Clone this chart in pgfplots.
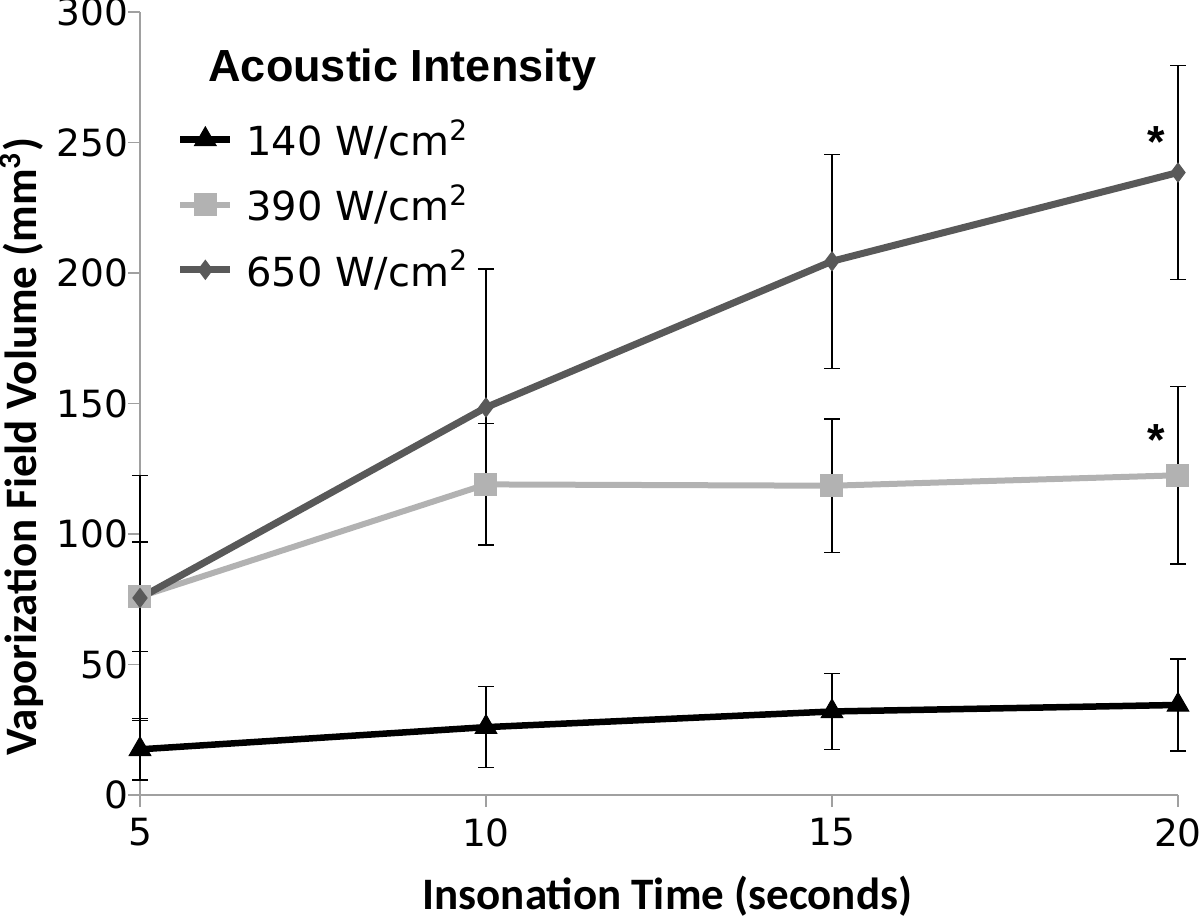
\documentclass[border=0pt]{standalone}
\usepackage{fontspec}
\usepackage{pgfplots}
\usepackage{pgfplotstable}
\pgfplotsset{compat=1.18}
\newfontfamily\dejavu{DejaVu Sans}
\newfontfamily\carlito{Carlito}
\newfontfamily\arialf{Liberation Sans}
\definecolor{axgray}{RGB}{160,160,160}
\definecolor{lightser}{RGB}{178,178,178}
\definecolor{darkser}{RGB}{89,89,89}

% time, mean volume, error
\pgfplotstableread{
x y e
5 17.5 11.8
10 26 15.5
15 32 14.6
20 34.5 17.6
}\lowint
\pgfplotstableread{
x y e
5 76 21
10 119 23.3
15 118.5 25.6
20 122.5 34
}\midint
\pgfplotstableread{
x y e
5 75.5 47
10 148.5 53
15 204.5 41
20 238.5 41
}\highint

\begin{document}
\begin{tikzpicture}
\begin{axis}[
  scale only axis,
  width=415.2pt, height=313.2pt,
  xmin=5, xmax=20, ymin=0, ymax=300,
  xtick={5,10,15,20}, ytick={0,50,...,300},
  axis x line*=bottom, axis y line*=left,
  axis line style={draw=axgray, line width=0.7pt, -},
  tick style={draw=axgray, line width=0.7pt},
  tick align=outside, major tick length=4.8pt,
  /pgf/number format/assume math mode=true,
  tick label style={font=\dejavu\fontsize{15}{17}\selectfont},
  yticklabel style={xshift=3.6pt},
  xticklabel style={yshift=-1pt},
  clip=false,
  xlabel={Insonation Time (seconds)},
  ylabel={Vaporization Field Volume (mm\textsuperscript{3})},
  label style={font=\carlito\bfseries\fontsize{18}{20}\selectfont},
  xlabel style={at={(axis description cs:0.508,-0.129)}, anchor=center},
  ylabel style={at={(axis description cs:-0.1137,0.445)}, anchor=center},
  error bars/error bar style={black, line width=0.6pt},
  error bars/error mark options={rotate=90, black, mark size=3.2pt, line width=0.6pt},
  legend style={at={(axis description cs:0.035,0.87)}, anchor=north west,
    draw=none, fill=none, font=\dejavu\fontsize{16}{18}\selectfont,
    row sep=6pt, inner sep=0pt},
  legend cell align=left,
  legend image code/.code={\draw[mark repeat=2,mark phase=2,#1]
    plot coordinates {(0pt,0pt)(10pt,0pt)(20pt,0pt)};},
]
\coordinate (O) at (rel axis cs:0,0);
\addplot[black, line width=2.6pt, mark=triangle*, mark size=5pt,
  mark options={line width=0.4pt},
  error bars/.cd, y dir=both, y explicit]
  table[x=x, y=y, y error=e] {\lowint};
\addlegendentry{\hspace{3pt}140 W/cm\textsuperscript{2}}
\addplot[lightser, line width=2.4pt, mark=square*, mark size=4.4pt,
  mark options={line width=0.4pt},
  error bars/.cd, y dir=both, y explicit]
  table[x=x, y=y, y error=e] {\midint};
\addlegendentry{\hspace{3pt}390 W/cm\textsuperscript{2}}
\addplot[darkser, line width=2.8pt, mark=diamond*, mark size=3.8pt,
  mark options={line width=0.4pt},
  error bars/.cd, y dir=both, y explicit]
  table[x=x, y=y, y error=e] {\highint};
\addlegendentry{\hspace{3pt}650 W/cm\textsuperscript{2}}
\node[anchor=west, inner sep=0pt, font=\arialf\bfseries\fontsize{18}{20}\selectfont]
  at (axis description cs:0.0655,0.926) {Acoustic Intensity};
\node[font=\arialf\bfseries\fontsize{18}{20}\selectfont] at (axis cs:19.68,250) {*};
\node[font=\arialf\bfseries\fontsize{18}{20}\selectfont] at (axis cs:19.68,136) {*};
\end{axis}
\pgfresetboundingbox
\path[use as bounding box] ([shift={(-56pt,-49.2pt)}]O) rectangle ([shift={(424pt,318pt)}]O);
\end{tikzpicture}
\end{document}
